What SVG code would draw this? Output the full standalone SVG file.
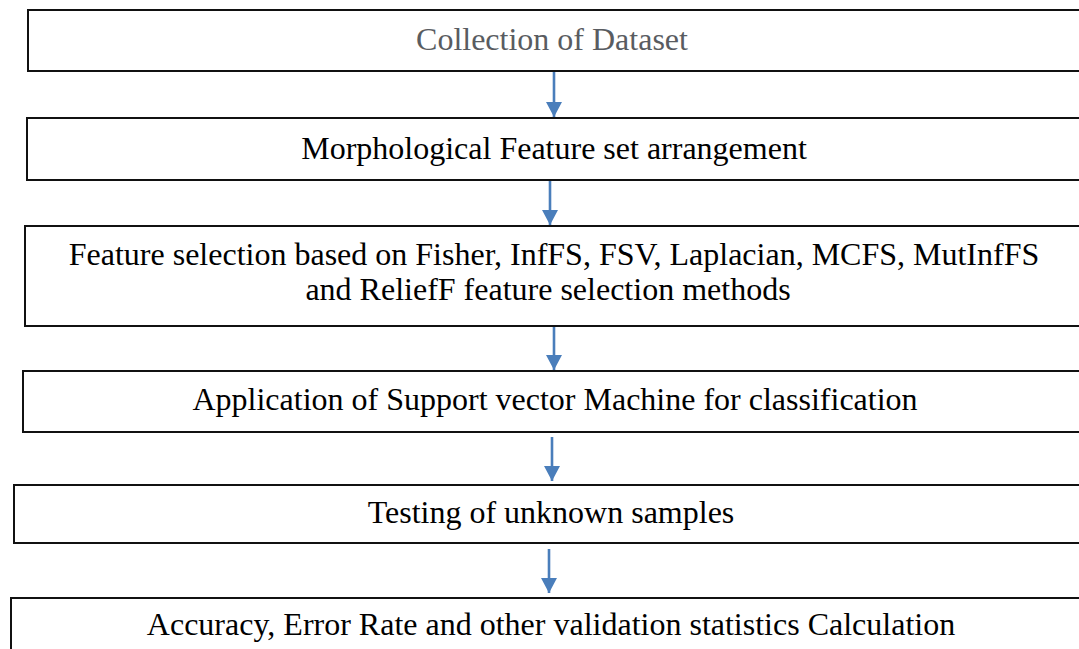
<svg xmlns="http://www.w3.org/2000/svg" width="1079" height="649" viewBox="0 0 1079 649">
<style>
.box{fill:#fff;stroke:#111;stroke-width:2}
.t{font-family:"Liberation Serif","Times New Roman",serif;font-size:32px;fill:#000;text-anchor:middle}
.edge{stroke:#4a7ebb;stroke-width:2.6;fill:none}
</style>
<defs>
<marker id="ah" markerUnits="userSpaceOnUse" markerWidth="16" markerHeight="16" refX="15" refY="8" orient="auto">
<path d="M0,0 L15,8 L0,16 Z" fill="#4a7ebb"/>
</marker>
</defs>
<rect width="1079" height="649" fill="#fff"/>
<g id="n1"><rect class="box" x="28" y="10" width="1070" height="61"/><text class="t" x="552" y="50" style="fill:#595c61">Collection of Dataset</text></g>
<g id="n2"><rect class="box" x="27" y="118" width="1070" height="62"/><text class="t" x="554" y="159">Morphological Feature set arrangement</text></g>
<g id="n3"><rect class="box" x="25" y="226" width="1070" height="100"/><text class="t" x="554" y="265">Feature selection based on Fisher, InfFS, FSV, Laplacian, MCFS, MutInfFS</text><text class="t" x="548" y="300">and ReliefF feature selection methods</text></g>
<g id="n4"><rect class="box" x="23" y="371" width="1070" height="61"/><text class="t" x="555" y="410">Application of Support vector Machine for classification</text></g>
<g id="n5"><rect class="box" x="14" y="485" width="1080" height="58"/><text class="t" x="551" y="523">Testing of unknown samples</text></g>
<g id="n6"><rect class="box" x="11" y="598" width="1080" height="70"/><text class="t" x="551" y="635">Accuracy, Error Rate and other validation statistics Calculation</text></g>
<g id="edges">
<line class="edge" x1="554" y1="72" x2="554" y2="117" marker-end="url(#ah)"/>
<line class="edge" x1="550" y1="181" x2="550" y2="225" marker-end="url(#ah)"/>
<line class="edge" x1="554" y1="327" x2="554" y2="370" marker-end="url(#ah)"/>
<line class="edge" x1="552" y1="437" x2="552" y2="481" marker-end="url(#ah)"/>
<line class="edge" x1="549" y1="549" x2="549" y2="593" marker-end="url(#ah)"/>
</g>
</svg>
